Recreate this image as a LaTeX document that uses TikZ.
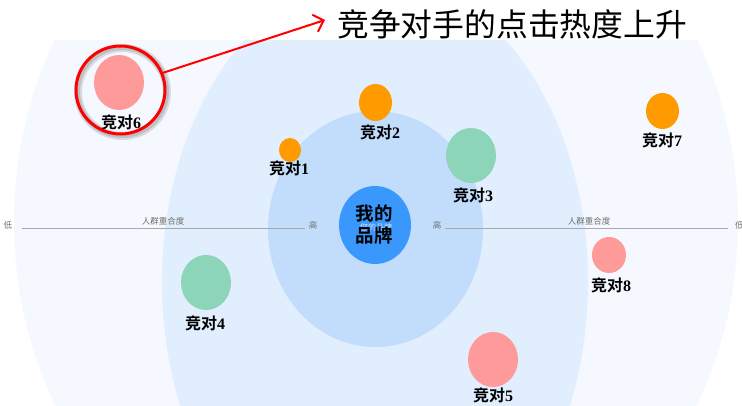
\documentclass[tikz,border=0pt]{standalone}
\usepackage{fontspec}
\setmainfont{Noto Sans CJK SC}
\newfontfamily\cjkb{Noto Sans CJK SC}[BoldFont={* Bold}]
\newfontfamily\digb{Liberation Serif}
\usetikzlibrary{shapes.geometric,arrows.meta}
\definecolor{outerbg}{HTML}{F5F9FF}
\definecolor{midbg}{HTML}{E1EEFD}
\definecolor{innerbg}{HTML}{C1DDFB}
\definecolor{brandblue}{HTML}{3A98FC}
\definecolor{pinkc}{HTML}{FF9A9A}
\definecolor{orangec}{HTML}{FF9A00}
\definecolor{greenc}{HTML}{8CD5B9}
\definecolor{axisgray}{HTML}{A8A8A8}
\definecolor{axistext}{HTML}{707070}
\newcommand\duilab[1]{{\cjkb\bfseries 竞对}{\digb\bfseries #1}}
\tikzset{
  comp/.style={ellipse, inner sep=0pt, draw=none},
  lab/.style={inner sep=0pt, font=\fontsize{16}{18}\selectfont, text=black},
  axlab/.style={inner sep=0pt, font=\fontsize{8.5}{10}\selectfont, text=axistext},
  axline/.style={draw=axisgray, line width=0.9pt},
}
\begin{document}
\begin{tikzpicture}[x=1pt,y=-1pt]
\useasboundingbox (0,0) rectangle (742,406);
\fill[white] (0,0) rectangle (742,406);
\begin{scope}
  \clip (0,41) rectangle (742,406);
  \fill[outerbg] (376,222) ellipse [x radius=362, y radius=395];
  \fill[midbg] (375,282) ellipse [x radius=213, y radius=306];
\end{scope}
\fill[innerbg] (375.5,229) ellipse [x radius=107.5, y radius=118];

% axis
\node[axlab] (lowL) at (8,225) {低};
\node[axlab] (highL) at (313,225) {高};
\node[axlab] (highR) at (437,225) {高};
\node[axlab, anchor=west] (lowR) at (735,225) {低};
\coordinate (aL1) at (22,228);
\coordinate (aL2) at (305,228);
\coordinate (aR1) at (445,228);
\coordinate (aR2) at (728,228);
\draw[axline] (aL1) -- (aL2);
\draw[axline] (aR1) -- (aR2);
\node[axlab] (degL) at (163,221) {人群重合度};
\node[axlab] (degR) at (589,221) {人群重合度};

% brand
\node[comp, fill=brandblue, minimum width=72, minimum height=78] (brand) at (375,225) {};
\node[inner sep=0pt, font=\fontsize{8}{9}\selectfont, text=white, opacity=0.75] (ghost) at (376,227) {您的品牌};
\node[inner sep=0pt, align=center, font=\fontsize{18.5}{22}\selectfont\cjkb\bfseries] (brandlab) at (374,224) {我的\\品牌};

% competitors
\node[comp, fill=orangec, minimum width=22, minimum height=24] (c1) at (290,150) {};
\node[lab] (l1) at (289,168) {\duilab{1}};
\node[comp, fill=orangec, minimum width=33, minimum height=37] (c2) at (375.5,102.5) {};
\node[lab] (l2) at (380,132) {\duilab{2}};
\node[comp, fill=greenc, minimum width=50, minimum height=55] (c3) at (471,155.5) {};
\node[lab] (l3) at (473,195) {\duilab{3}};
\node[comp, fill=greenc, minimum width=50, minimum height=55] (c4) at (206,282.5) {};
\node[lab] (l4) at (205,323) {\duilab{4}};
\node[comp, fill=pinkc, minimum width=50, minimum height=55] (c5) at (493,359.5) {};
\node[lab] (l5) at (493,395) {\duilab{5}};
\node[comp, fill=pinkc, minimum width=50, minimum height=55] (c6) at (119,82.5) {};
\node[lab] (l6) at (121,122) {\duilab{6}};
\node[comp, fill=orangec, minimum width=33, minimum height=36] (c7) at (662.5,111) {};
\node[lab] (l7) at (662,140) {\duilab{7}};
\node[comp, fill=pinkc, minimum width=34, minimum height=36] (c8) at (609,255) {};
\node[lab] (l8) at (611,285) {\duilab{8}};

% highlight ring
\draw[black, opacity=0.12, line width=8pt] (122.5,92) ellipse [x radius=44.5, y radius=44];
\draw[black, opacity=0.12, line width=5pt] (122,91.5) ellipse [x radius=44.5, y radius=44];
\node[ellipse, draw=red, line width=3pt, minimum width=89, minimum height=88, inner sep=0pt] (ring) at (120.5,90) {};

% title and arrow
\node[inner sep=0pt, anchor=west, font=\fontsize{31.8}{36}\selectfont] (title) at (337,24) {竞争对手的点击热度上升};
\coordinate (tip) at (325,20);
\draw[red, line width=2pt, -{Straight Barb[length=9pt, width=18pt, line width=2pt]}] (ring.22) -- (tip);
\end{tikzpicture}
\end{document}
